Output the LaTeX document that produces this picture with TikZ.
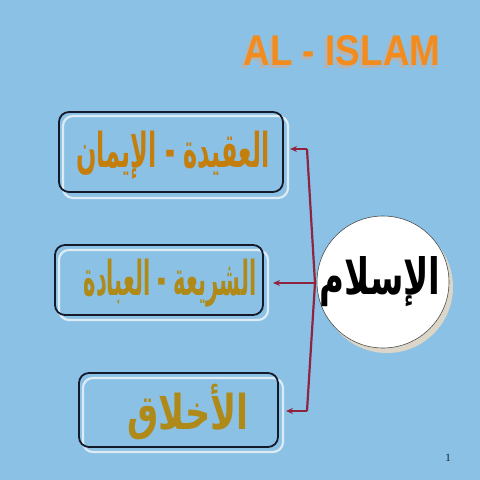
\documentclass[tikz,border=0pt]{standalone}
\usepackage{fontspec}
\TeXXeTstate=1
\newfontfamily\arabicfont[Script=Arabic]{DejaVu Sans}
\newfontfamily\titlefont{Liberation Sans}
\newfontfamily\numfont{Liberation Serif}
\usetikzlibrary{arrows.meta}
\definecolor{bgblue}{HTML}{8BC1E5}
\definecolor{titleorange}{HTML}{F28C1E}
\definecolor{shadowgrey}{HTML}{B4B4B4}
\definecolor{txtone}{HTML}{C47E0C}
\definecolor{txttwo}{HTML}{B08A18}
\definecolor{boxdark}{HTML}{141A2A}
\definecolor{boxlight}{HTML}{DDEBF4}
\definecolor{arrowred}{HTML}{8E2440}
\definecolor{circshadow}{HTML}{DCD6C8}
\tikzset{
  darkbox/.style={draw=boxdark, line width=1.8pt, rounded corners=10pt},
  lightbox/.style={draw=boxlight, line width=2.2pt, rounded corners=10pt},
  arabtxt/.style={font=\arabicfont\bfseries\fontsize{48}{48}\selectfont},
  conn/.style={draw=arrowred, line width=2.2pt},
  arr/.style={conn, -{Stealth[length=7pt,width=6pt]}},
}
\newcommand{\titletext}{AL - ISLAM}
\begin{document}
\begin{tikzpicture}[x=1pt,y=-1pt]
\fill[bgblue] (0,0) rectangle (480,480);
\useasboundingbox (0,0) rectangle (480,480);
% title with shadow, in one node
\node (title) [font=\titlefont\bfseries\fontsize{43}{43}\selectfont, xscale=0.86] at (342,52)
  {\makebox[0pt][l]{\hspace{-3pt}\raisebox{-3pt}{\textcolor{shadowgrey}{\titletext}}}\textcolor{titleorange}{\titletext}};
% box 1
\draw[lightbox] (63,116) rectangle (288,198);
\draw[darkbox] (59,112) rectangle (283,192);
\node (b1) [text=txtone, arabtxt, xscale=0.5] at (173,155) {\beginR العقيدة - الإيمان\endR};
% box 2
\draw[lightbox] (59,250) rectangle (268,320);
\draw[darkbox] (55,245) rectangle (263,315);
\node (b2) [text=txttwo, arabtxt, xscale=0.44] at (170,283) {\beginR الشريعة - العبادة\endR};
% box 3
\draw[lightbox] (83,378) rectangle (283,452);
\draw[darkbox] (79,373) rectangle (278,447);
\node (b3) [text=txttwo, arabtxt, xscale=0.73] at (188,412) {\beginR الأخلاق\endR};
% circle
\fill[circshadow] (387,287) circle (66);
\node (isl) [circle, draw=black!70, line width=0.6pt, fill=white, minimum size=132pt, inner sep=0pt] at (383,282) {};
\node[font=\arabicfont\bfseries\fontsize{50}{50}\selectfont, text=black, xscale=0.68] at (380,282) {\beginR الإسلام\endR};
% connectors
\coordinate (j1) at (307,149);
\coordinate (j2) at (315,283);
\coordinate (j3) at (307,411);
\coordinate (a1) at (290,149);
\coordinate (a2) at (273,283);
\coordinate (a3) at (286,411);
\draw[conn] (j1) -- (j2) -- (j3);
\draw[arr] (j1) -- (a1);
\draw[arr] (j2) -- (a2);
\draw[arr] (j3) -- (a3);
% page number
\node (pg) [font=\numfont\fontsize{11}{11}\selectfont, text=boxdark] at (448,458) {1};
\end{tikzpicture}
\end{document}
